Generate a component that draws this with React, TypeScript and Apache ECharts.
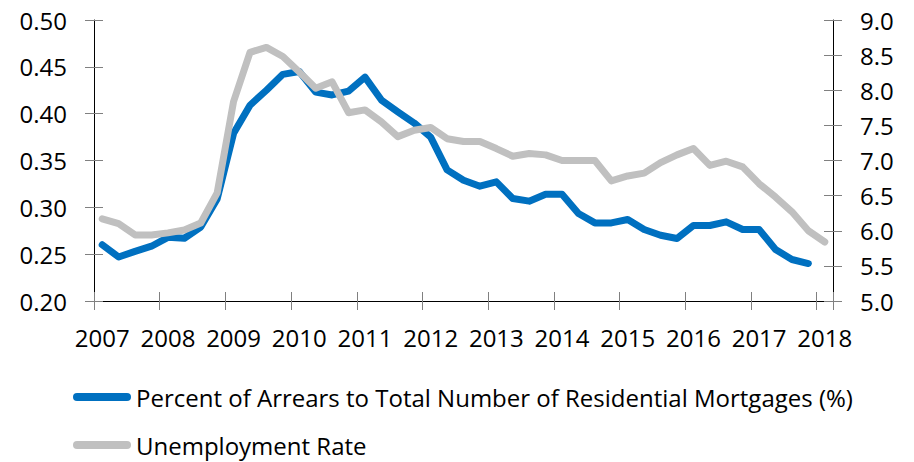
import React, { useEffect, useRef } from "react";
import * as echarts from "echarts";

const years = ["2007", "2008", "2009", "2010", "2011", "2012", "2013", "2014", "2015", "2016", "2017", "2018"];
const quarterLabels: string[] = [];
years.forEach((y) => {
  for (let q = 1; q <= 4; q++) quarterLabels.push(`${y} Q${q}`);
});
const categories = quarterLabels.slice(0, 45);

const arrearsName = "Percent of Arrears to Total Number of Residential Mortgages (%)";
const unempName = "Unemployment Rate";

const arrears = [
  0.26, 0.247, 0.253, 0.2585, 0.268, 0.267, 0.279, 0.309,
  0.379, 0.409, 0.425, 0.442, 0.445, 0.423, 0.42, 0.424,
  0.439, 0.4145, 0.402, 0.39, 0.375, 0.34, 0.329, 0.3226,
  0.3272, 0.3094, 0.3066, 0.314, 0.314, 0.2934, 0.2834, 0.2834,
  0.287, 0.2763, 0.2702, 0.2667, 0.2806, 0.2806, 0.2845, 0.2763,
  0.2763, 0.255, 0.2443, 0.24,
];

const unemployment = [
  6.17, 6.1, 5.94, 5.94, 5.97, 6.01, 6.11, 6.54,
  7.84, 8.54, 8.61, 8.48, 8.26, 8.03, 8.12, 7.68,
  7.72, 7.55, 7.34, 7.43, 7.47, 7.31, 7.27, 7.27,
  7.17, 7.06, 7.1, 7.08, 7.0, 7.0, 7.0, 6.71,
  6.78, 6.82, 6.97, 7.08, 7.17, 6.93, 6.99, 6.91,
  6.67, 6.48, 6.27, 6.0, 5.84,
];

const FONT = "Open Sans";

export default function App() {
  const ref = useRef<HTMLDivElement>(null);
  useEffect(() => {
    if (!ref.current) return;
    const chart = echarts.init(ref.current, undefined, { renderer: "svg" });
    const tickStyle = { color: "#808080", width: 1 };
    const yearLabel = (v: string) => (v.endsWith("Q1") ? v.slice(0, 4) : "");
    chart.setOption({
      animation: false,
      grid: { left: 94, right: 81, top: 20, bottom: 161, containLabel: false },
      legend: {
        orient: "vertical",
        left: 73,
        top: 385,
        padding: 0,
        itemGap: 24,
        itemWidth: 58,
        itemHeight: 8,
        icon: "path://M4,0 L54,0 A4,4 0 0 1 54,8 L4,8 A4,4 0 0 1 4,0 Z",
        textStyle: { fontFamily: FONT, fontSize: 24, color: "#000" },
        data: [arrearsName, unempName],
      },
      xAxis: [
        {
          type: "category",
          data: categories,
          position: "bottom",
          boundaryGap: true,
          axisLine: { show: true, onZero: false, lineStyle: { color: "#000", width: 1 } },
          axisTick: { show: true, interval: 3, length: 9, lineStyle: tickStyle },
          axisLabel: {
            interval: 3,
            margin: 24,
            fontFamily: FONT,
            fontSize: 24,
            color: "#000",
            formatter: yearLabel,
          },
          splitLine: { show: false },
        },
        {
          type: "category",
          data: categories,
          position: "bottom",
          boundaryGap: true,
          axisLine: { show: false, onZero: false },
          axisTick: { show: true, inside: true, interval: 3, length: 9, lineStyle: tickStyle },
          axisLabel: { show: false },
          splitLine: { show: false },
        },
      ],
      yAxis: [
        {
          type: "value",
          position: "left",
          min: 0.2,
          max: 0.5,
          interval: 0.05,
          axisLine: { show: true, lineStyle: { color: "#000", width: 1 } },
          axisTick: { show: true, length: 9, lineStyle: tickStyle },
          axisLabel: {
            margin: 27,
            fontFamily: FONT,
            fontSize: 24,
            color: "#000",
            formatter: (v: number) => v.toFixed(2),
          },
          splitLine: { show: false },
        },
        {
          type: "value",
          position: "right",
          min: 5,
          max: 9,
          interval: 0.5,
          axisLine: { show: true, lineStyle: { color: "#000", width: 1 } },
          axisTick: { show: true, length: 9, lineStyle: tickStyle },
          axisLabel: {
            margin: 27,
            fontFamily: FONT,
            fontSize: 24,
            color: "#000",
            formatter: (v: number) => v.toFixed(1),
          },
          splitLine: { show: false },
        },
        {
          type: "value",
          position: "left",
          min: 0.2,
          max: 0.5,
          interval: 0.05,
          axisLine: { show: false },
          axisTick: { show: true, inside: true, length: 9, lineStyle: tickStyle },
          axisLabel: { show: false },
          splitLine: { show: false },
        },
        {
          type: "value",
          position: "right",
          min: 5,
          max: 9,
          interval: 0.5,
          axisLine: { show: false },
          axisTick: { show: true, inside: true, length: 9, lineStyle: tickStyle },
          axisLabel: { show: false },
          splitLine: { show: false },
        },
      ],
      series: [
        {
          name: arrearsName,
          type: "line",
          xAxisIndex: 0,
          yAxisIndex: 0,
          data: arrears,
          showSymbol: false,
          symbol: "none",
          color: "#0070C0",
          lineStyle: { width: 7, color: "#0070C0", cap: "round", join: "round" },
          z: 2,
        },
        {
          name: unempName,
          type: "line",
          xAxisIndex: 0,
          yAxisIndex: 1,
          data: unemployment,
          showSymbol: false,
          symbol: "none",
          color: "#C0C0C0",
          lineStyle: { width: 7, color: "#C0C0C0", cap: "round", join: "round" },
          z: 3,
        },
      ],
    });
    return () => chart.dispose();
  }, []);
  return <div ref={ref} style={{ width: 914, height: 462, position: "absolute", left: 0, top: 0 }} />;
}
